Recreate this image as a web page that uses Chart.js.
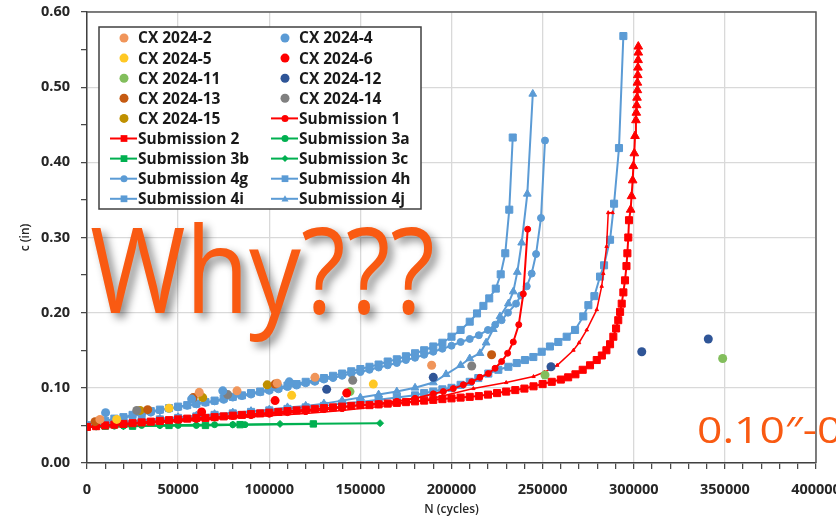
<!DOCTYPE html>
<html>
<head>
<meta charset="utf-8">
<script src="https://cdn.jsdelivr.net/npm/chart.js@4.4.1/dist/chart.umd.min.js"></script>
<style>
  html, body { margin: 0; padding: 0; background: #fff; overflow: hidden; }
  #wrap { width: 836px; height: 523px; }
</style>
</head>
<body>
<div id="wrap"><canvas id="chart"></canvas></div>
<script>
// 坐标轴刻度
const xTickValues = [0, 50000, 100000, 150000, 200000, 250000, 300000, 350000, 400000];
const yTickValues = [0, 0.1, 0.2, 0.3, 0.4, 0.5, 0.6];

// CX 试验点
const cx2N = [7100, 61600, 82300, 104400, 125100, 189100];
const cx2C = [0.058, 0.094, 0.096, 0.106, 0.114, 0.130];
const cx4N = [10200, 57400, 74500, 111000];
const cx4C = [0.067, 0.085, 0.096, 0.108];
const cx5N = [16300, 45000, 112300, 157100];
const cx5C = [0.058, 0.073, 0.090, 0.105];
const cx6N = [62900, 103200, 142500];
const cx6C = [0.068, 0.083, 0.093];
const cx11N = [144300, 251300, 348800];
const cx11C = [0.095, 0.117, 0.139];
const cx12N = [131500, 190000, 254600, 304400, 340900];
const cx12C = [0.098, 0.114, 0.128, 0.148, 0.165];
const cx13N = [4400, 33300, 58300, 103200, 222000];
const cx13C = [0.055, 0.071, 0.087, 0.105, 0.144];
const cx14N = [27300, 77200, 145800, 211100];
const cx14C = [0.070, 0.091, 0.110, 0.129];
const cx15N = [29100, 63500, 98900];
const cx15C = [0.070, 0.087, 0.104];

// Submission 曲线
const s1N = [0, 5000, 10000, 20000, 30000, 40000, 50000, 60000, 70000, 80000, 90000, 100000, 110000, 120000, 130000, 140000, 150000, 160000, 170000, 180000, 190000, 195500, 201000, 206500, 211100, 215600, 220200, 223900, 227500, 230800, 233900, 236900, 239400, 241800];
const s1C = [0.048, 0.049, 0.050, 0.052, 0.054, 0.055, 0.057, 0.058, 0.060, 0.062, 0.063, 0.065, 0.067, 0.069, 0.071, 0.074, 0.077, 0.079, 0.082, 0.086, 0.092, 0.095, 0.099, 0.104, 0.108, 0.114, 0.119, 0.126, 0.135, 0.146, 0.161, 0.184, 0.225, 0.311];

const s1bN = [0, 20000, 40000, 60000, 80000, 100000, 120000, 140000, 160000, 180000, 195000, 212000, 230000, 245000, 251000, 258000, 266900, 270000, 274200, 279700, 282400, 283300, 285100, 286000, 288400];
const s1bC = [0.048, 0.051, 0.054, 0.057, 0.060, 0.063, 0.066, 0.070, 0.075, 0.081, 0.089, 0.099, 0.107, 0.115, 0.121, 0.130, 0.150, 0.160, 0.177, 0.204, 0.235, 0.252, 0.288, 0.333, 0.333];

const s2N = [0, 5000, 10000, 15000, 20000, 25000, 30000, 35000, 40000, 45000, 50000, 55000, 60000, 65000, 70000, 75000, 80000, 85000, 90000, 95000, 100000, 105000, 110000, 115000, 120000, 125000, 130000, 135000, 140000, 145000, 150000, 155000, 160000, 165000, 170000, 175000, 180000, 185000, 190000, 195000, 200000, 205000, 210000, 215000, 220000, 225000, 230000, 235000, 240000, 245000, 250000, 255000, 260000, 264000, 268000, 272000, 276000, 279700, 282500, 285000, 287000, 288800, 290300, 291500, 292500, 293400, 294300, 295200, 296000, 296500, 297000, 297400, 298300, 298800, 299400, 299800, 300300, 300700, 301200, 301400, 301600, 301800, 302000, 302000, 302200, 302300, 302400, 302500, 302500];
const s2C = [0.048, 0.049, 0.050, 0.051, 0.052, 0.053, 0.054, 0.055, 0.056, 0.057, 0.058, 0.059, 0.060, 0.060, 0.061, 0.062, 0.063, 0.064, 0.065, 0.066, 0.067, 0.068, 0.069, 0.070, 0.071, 0.072, 0.073, 0.074, 0.075, 0.076, 0.077, 0.077, 0.078, 0.079, 0.080, 0.081, 0.082, 0.083, 0.084, 0.085, 0.086, 0.087, 0.088, 0.089, 0.091, 0.093, 0.095, 0.097, 0.099, 0.102, 0.105, 0.108, 0.111, 0.114, 0.118, 0.124, 0.130, 0.137, 0.143, 0.150, 0.158, 0.168, 0.179, 0.190, 0.201, 0.212, 0.227, 0.243, 0.262, 0.279, 0.300, 0.323, 0.337, 0.355, 0.376, 0.395, 0.412, 0.435, 0.456, 0.466, 0.476, 0.486, 0.496, 0.506, 0.516, 0.526, 0.536, 0.546, 0.554];

const s3aN = [0, 5000, 10000, 15000, 20000, 30000, 40000, 50000, 60000, 70000, 80000, 86700];
const s3aC = [0.048, 0.048, 0.049, 0.049, 0.049, 0.050, 0.050, 0.050, 0.050, 0.051, 0.051, 0.051];
const s3bN = [0, 10000, 25000, 45000, 65000, 84000, 124200];
const s3bC = [0.048, 0.049, 0.049, 0.050, 0.050, 0.051, 0.052];
const s3cN = [0, 20000, 40000, 60000, 80000, 105900, 160800];
const s3cC = [0.048, 0.049, 0.050, 0.051, 0.051, 0.052, 0.053];

const s4gN = [0, 5000, 10000, 15000, 20000, 25000, 30000, 35000, 40000, 45000, 50000, 55000, 60000, 65000, 70000, 75000, 80000, 85000, 90000, 95000, 100000, 105000, 110000, 115000, 120000, 125000, 130000, 135000, 140000, 145000, 150000, 155000, 160000, 165000, 170000, 175000, 180000, 185000, 190000, 195000, 200000, 205000, 210000, 215000, 220000, 224000, 227500, 231000, 235400, 238100, 241300, 244000, 246400, 249100, 251300];
const s4gC = [0.050, 0.052, 0.055, 0.058, 0.060, 0.063, 0.065, 0.067, 0.070, 0.072, 0.074, 0.076, 0.078, 0.080, 0.082, 0.084, 0.087, 0.089, 0.091, 0.094, 0.096, 0.098, 0.101, 0.103, 0.106, 0.108, 0.111, 0.113, 0.116, 0.119, 0.121, 0.124, 0.127, 0.130, 0.133, 0.137, 0.140, 0.144, 0.148, 0.152, 0.156, 0.161, 0.165, 0.170, 0.177, 0.184, 0.190, 0.200, 0.212, 0.223, 0.235, 0.252, 0.278, 0.326, 0.429];

const s4hN = [0, 10000, 20000, 30000, 40000, 50000, 60000, 70000, 80000, 90000, 100000, 110000, 120000, 130000, 140000, 150000, 160000, 170000, 180000, 185000, 190000, 195000, 200000, 205000, 210000, 214700, 220200, 225700, 231200, 235800, 240300, 244900, 249500, 254000, 258600, 263200, 267800, 272300, 275100, 278400, 281500, 283700, 287000, 289200, 291900, 294300];
const s4hC = [0.050, 0.052, 0.054, 0.056, 0.058, 0.060, 0.062, 0.064, 0.066, 0.068, 0.070, 0.072, 0.074, 0.076, 0.079, 0.081, 0.084, 0.087, 0.090, 0.093, 0.095, 0.098, 0.100, 0.104, 0.108, 0.113, 0.119, 0.124, 0.128, 0.133, 0.137, 0.141, 0.148, 0.155, 0.161, 0.168, 0.177, 0.195, 0.210, 0.222, 0.248, 0.263, 0.297, 0.345, 0.419, 0.568];

const s4iN = [0, 5000, 10000, 15000, 20000, 25000, 30000, 35000, 40000, 45000, 50000, 55000, 60000, 65000, 70000, 75000, 80000, 85000, 90000, 95000, 100000, 105000, 110000, 115000, 120000, 125000, 130000, 135000, 140000, 145000, 150000, 155000, 160000, 165000, 170000, 175000, 180000, 185000, 190000, 195000, 200000, 205000, 210000, 214000, 217500, 220700, 224300, 227000, 229500, 231700, 233600];
const s4iC = [0.050, 0.053, 0.056, 0.059, 0.061, 0.064, 0.066, 0.069, 0.071, 0.073, 0.075, 0.077, 0.079, 0.081, 0.083, 0.086, 0.088, 0.090, 0.093, 0.095, 0.098, 0.100, 0.103, 0.105, 0.108, 0.110, 0.113, 0.116, 0.119, 0.122, 0.125, 0.128, 0.131, 0.135, 0.138, 0.142, 0.146, 0.150, 0.155, 0.160, 0.168, 0.177, 0.188, 0.199, 0.209, 0.219, 0.232, 0.251, 0.279, 0.337, 0.433];

const s4jN = [0, 10000, 20000, 30000, 40000, 50000, 60000, 70000, 80000, 90000, 100000, 110000, 120000, 130000, 140000, 150000, 160000, 170000, 180000, 190000, 197000, 205000, 210000, 215600, 219000, 222900, 226600, 231200, 233900, 236100, 238500, 241600, 244600];
const s4jC = [0.050, 0.053, 0.055, 0.057, 0.059, 0.061, 0.063, 0.065, 0.067, 0.069, 0.071, 0.074, 0.076, 0.079, 0.083, 0.087, 0.091, 0.095, 0.100, 0.107, 0.118, 0.130, 0.139, 0.146, 0.160, 0.178, 0.195, 0.212, 0.228, 0.254, 0.293, 0.358, 0.491];

const BLUE = '#5B9BD5';
const RED = '#FF0000';
const GREEN = '#00B050';
const ORANGE = '#F95A12';

function pts(n, c) {
  return n.map((v, i) => ({ x: v, y: c[i] }));
}

function dots(label, n, c, color) {
  return {
    label: label, data: pts(n, c), showLine: false,
    pointStyle: 'circle', pointRadius: 4.5,
    backgroundColor: color, borderColor: color, pointBorderWidth: 0
  };
}

function curve(label, n, c, color, style, r, width) {
  return {
    label: label, data: pts(n, c), showLine: true,
    borderColor: color, backgroundColor: color, borderWidth: width || 2,
    pointStyle: style, pointRadius: r, pointBorderWidth: 1,
    pointBorderColor: color, pointBackgroundColor: color
  };
}

const datasets = [
  dots('CX 2024-2', cx2N, cx2C, '#F0955A'),
  dots('CX 2024-4', cx4N, cx4C, BLUE),
  dots('CX 2024-5', cx5N, cx5C, '#FFC824'),
  dots('CX 2024-6', cx6N, cx6C, RED),
  dots('CX 2024-11', cx11N, cx11C, '#82BE5C'),
  dots('CX 2024-12', cx12N, cx12C, '#2F5597'),
  dots('CX 2024-13', cx13N, cx13C, '#C55A11'),
  dots('CX 2024-14', cx14N, cx14C, '#808080'),
  dots('CX 2024-15', cx15N, cx15C, '#BF9000'),
  curve('Submission 1', s1N, s1C, RED, 'circle', 3),
  curve('', s1bN, s1bC, RED, 'triangle', 2, 1.5),
  curve('Submission 2', s2N, s2C, RED, 'rect', 5),
  curve('Submission 3a', s3aN, s3aC, GREEN, 'circle', 3),
  curve('Submission 3b', s3bN, s3bC, GREEN, 'rect', 4.5),
  curve('Submission 3c', s3cN, s3cC, GREEN, 'rectRot', 3.5),
  curve('Submission 4g', s4gN, s4gC, BLUE, 'circle', 3.5),
  curve('Submission 4h', s4hN, s4hC, BLUE, 'rect', 5),
  curve('Submission 4i', s4iN, s4iC, BLUE, 'rect', 5),
  curve('Submission 4j', s4jN, s4jC, BLUE, 'triangle', 4.5)
];

// 红色密集曲线上段为三角标记
datasets[11].pointStyle = ctx => (ctx.raw && ctx.raw.y > 0.33) ? 'triangle' : 'rect';

// 画图例标记
function drawMarker(ctx, style, x, y, r, color) {
  ctx.fillStyle = color;
  ctx.beginPath();
  if (style === 'circle') {
    ctx.arc(x, y, r, 0, Math.PI * 2);
  } else if (style === 'rect') {
    ctx.rect(x - r * 0.75, y - r * 0.75, r * 1.5, r * 1.5);
  } else if (style === 'triangle') {
    ctx.moveTo(x, y - r);
    ctx.lineTo(x + r, y + r * 0.75);
    ctx.lineTo(x - r, y + r * 0.75);
    ctx.closePath();
  } else if (style === 'rectRot') {
    ctx.moveTo(x, y - r);
    ctx.lineTo(x + r, y);
    ctx.lineTo(x, y + r);
    ctx.lineTo(x - r, y);
    ctx.closePath();
  }
  ctx.fill();
}

const frameBox = {
  id: 'frameBox',
  beforeDatasetsDraw(chart) {
    const { ctx, chartArea: a } = chart;
    ctx.save();
    ctx.strokeStyle = '#595959';
    ctx.lineWidth = 1.5;
    ctx.beginPath();
    ctx.moveTo(a.left, a.top);
    ctx.lineTo(a.right, a.top);
    ctx.lineTo(a.right, a.bottom);
    ctx.stroke();
    ctx.restore();
  }
};

const boxLegend = {
  id: 'boxLegend',
  afterDatasetsDraw(chart) {
    const ctx = chart.ctx;
    const items = chart.data.datasets.filter(d => d.label);
    ctx.save();
    ctx.fillStyle = '#fff';
    ctx.fillRect(99, 27, 322, 182);
    ctx.strokeStyle = '#404040';
    ctx.lineWidth = 1.5;
    ctx.strokeRect(99, 27, 322, 182);
    ctx.font = 'bold 15.5px "Open Sans"';
    ctx.textBaseline = 'middle';
    items.forEach((ds, i) => {
      const col = i % 2;
      const row = Math.floor(i / 2);
      const mx = col ? 285 : 124;
      const y = 38 + row * 20.1;
      const color = ds.borderColor;
      if (ds.showLine) {
        ctx.strokeStyle = color;
        ctx.lineWidth = 2;
        ctx.beginPath();
        ctx.moveTo(mx - 14, y);
        ctx.lineTo(mx + 13, y);
        ctx.stroke();
        const style = typeof ds.pointStyle === 'string' ? ds.pointStyle : 'rect';
        drawMarker(ctx, style, mx, y, style === 'rect' ? 4.5 : 3.5, color);
      } else {
        drawMarker(ctx, 'circle', mx, y, 4.5, color);
      }
      ctx.fillStyle = '#1a1a1a';
      ctx.fillText(ds.label, col ? 299 : 138, y + 1);
    });
    ctx.restore();
  }
};

const overlayText = {
  id: 'overlayText',
  afterDraw(chart) {
    const ctx = chart.ctx;
    ctx.save();
    ctx.fillStyle = ORANGE;
    ctx.textBaseline = 'alphabetic';
    ctx.shadowColor = 'rgba(0,0,0,0.45)';
    ctx.shadowBlur = 8;
    ctx.shadowOffsetX = 5;
    ctx.shadowOffsetY = 5;
    ctx.translate(90, 313);
    ctx.scale(0.87, 1);
    ctx.font = '400 119px "Open Sans"';
    ctx.fillText('Why???', 0, 0);
    ctx.restore();

    ctx.save();
    ctx.fillStyle = ORANGE;
    ctx.textBaseline = 'alphabetic';
    ctx.translate(697, 443);
    ctx.scale(1.2, 1);
    ctx.font = '400 37px "Open Sans"';
    ctx.fillText('0.10\u2033-0.', 0, 0);
    ctx.restore();
  }
};

Chart.defaults.font.family = '"Open Sans", sans-serif';
Chart.defaults.color = '#262626';

new Chart(document.getElementById('chart'), {
  type: 'scatter',
  data: { datasets: datasets },
  options: {
    responsive: true,
    maintainAspectRatio: false,
    animation: false,
    layout: { padding: { left: 8, top: 12, right: 20, bottom: 0 } },
    plugins: {
      legend: { display: false },
      tooltip: { enabled: false }
    },
    scales: {
      x: {
        type: 'linear', min: 0, max: 400000,
        afterFit: s => { s.height = 60; s.paddingLeft = 0; s.paddingRight = 0; },
        ticks: {
          stepSize: 10000, autoSkip: false, maxRotation: 0, padding: 14,
          font: { size: 14.5, weight: 'bold', lineHeight: 1 },
          callback: v => xTickValues.includes(v) ? String(v) : ''
        },
        grid: {
          color: c => xTickValues.includes(c.tick.value) ? '#d9d9d9' : 'rgba(0,0,0,0)',
          lineWidth: 1.3, tickColor: '#404040', tickLength: 6, tickWidth: 1.2
        },
        border: { color: '#404040', width: 1.5 },
        title: {
          display: true, text: 'N (cycles)', padding: { top: 2, bottom: 6 },
          font: { size: 12, weight: '600' }
        }
      },
      y: {
        type: 'linear', min: 0, max: 0.6,
        afterFit: s => { s.width = 79; s.paddingTop = 0; s.paddingBottom = 0; },
        ticks: {
          stepSize: 0.05, autoSkip: false, padding: 11,
          font: { size: 14.5, weight: 'bold' },
          callback: v => yTickValues.some(t => Math.abs(t - v) < 1e-6) ? v.toFixed(2) : ''
        },
        grid: {
          color: c => yTickValues.some(t => Math.abs(t - c.tick.value) < 1e-6) ? '#d9d9d9' : 'rgba(0,0,0,0)',
          lineWidth: 1.3, tickColor: '#404040', tickLength: 6, tickWidth: 1.2
        },
        border: { color: '#404040', width: 1.5 },
        title: {
          display: true, text: 'c (in)', padding: { top: 10, bottom: 0 },
          font: { size: 12, weight: '600' }
        }
      }
    }
  },
  plugins: [frameBox, boxLegend, overlayText]
});
</script>
</body>
</html>
